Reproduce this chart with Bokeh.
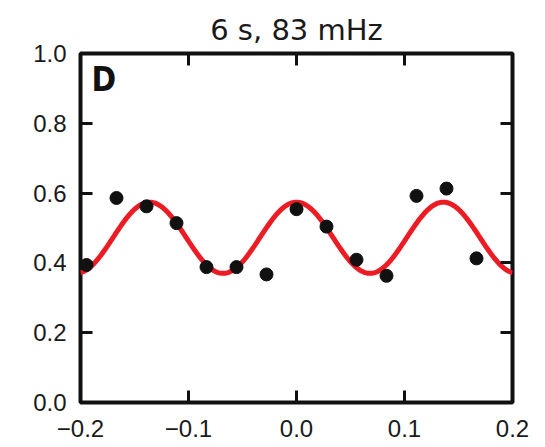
import numpy as np
from bokeh.plotting import figure
from bokeh.models import FixedTicker, CustomJSTickFormatter, LinearAxis, Label, Range1d, ColumnDataSource
from bokeh.embed import file_html
from bokeh.resources import INLINE

# data
phase_x = [-7/36, -6/36, -5/36, -4/36, -3/36, -2/36, -1/36, 0.0,
           1/36, 2/36, 3/36, 4/36, 5/36, 6/36]
probability = [0.394, 0.586, 0.562, 0.514, 0.388, 0.388, 0.367, 0.554,
               0.504, 0.409, 0.363, 0.592, 0.613, 0.413]

# fitted oscillation (parameters)
fit_offset = 0.472
fit_amplitude = 0.102
fit_period = 0.136

x_ticks = [-0.2, -0.1, 0.0, 0.1, 0.2]
y_ticks = [0.0, 0.2, 0.4, 0.6, 0.8, 1.0]
title_text = "6 s, 83 mHz"
panel_letter = "D"

fit_x = np.linspace(-0.2, 0.2, 400)
fit_y = fit_offset + fit_amplitude * np.cos(2 * np.pi * fit_x / fit_period)

p = figure(width=540, height=446, output_backend="svg", toolbar_location=None,
           x_range=Range1d(-0.2, 0.2), y_range=Range1d(0.0, 1.0),
           min_border_left=80, min_border_right=28, min_border_top=53, min_border_bottom=44,
           title=title_text)
p.background_fill_color = "white"
p.border_fill_color = "white"
p.outline_line_color = "#111111"
p.outline_line_width = 4
p.grid.visible = False

p.title.align = "center"
p.title.vertical_align = "top"
p.title.text_font = "DejaVu Sans"
p.title.text_font_size = "29px"
p.title.text_font_style = "normal"
p.title.text_color = "#1a1a1a"
p.title.standoff = 10

fmt = CustomJSTickFormatter(code="return tick.toFixed(1).replace('-', '\u2212');")

def style_axis(ax, ticks, show_labels):
    ax.ticker = FixedTicker(ticks=ticks)
    ax.formatter = fmt
    ax.axis_line_color = None
    ax.major_tick_in = 12
    ax.major_tick_out = 0
    ax.major_tick_line_width = 3
    ax.major_tick_line_color = "#111111"
    ax.minor_tick_line_color = None
    ax.major_label_text_font = "Liberation Sans"
    ax.major_label_text_font_size = "24px"
    ax.major_label_text_color = "#1a1a1a"
    if not show_labels:
        ax.major_label_text_font_size = "0px"
        ax.major_label_text_color = None
        ax.major_label_standoff = 0

style_axis(p.xaxis[0], x_ticks, True)
style_axis(p.yaxis[0], y_ticks, True)
p.xaxis[0].major_label_standoff = 17
p.yaxis[0].major_label_standoff = 14

top_ax = LinearAxis()
style_axis(top_ax, x_ticks, False)
p.add_layout(top_ax, "above")
right_ax = LinearAxis()
style_axis(right_ax, y_ticks, False)
p.add_layout(right_ax, "right")

p.line(fit_x, fit_y, line_color="#ec1c24", line_width=5)
src = ColumnDataSource(dict(x=phase_x, y=probability))
p.scatter("x", "y", source=src, size=13, fill_color="#111111", line_color="#111111")

p.add_layout(Label(x=-0.2, y=1.0, x_offset=11, y_offset=-6, text=panel_letter,
                   text_font="DejaVu Sans Condensed", text_font_style="bold",
                   text_font_size="33px", text_baseline="top", text_color="#111111"))

open("out.html", "w").write(file_html(p, INLINE))
